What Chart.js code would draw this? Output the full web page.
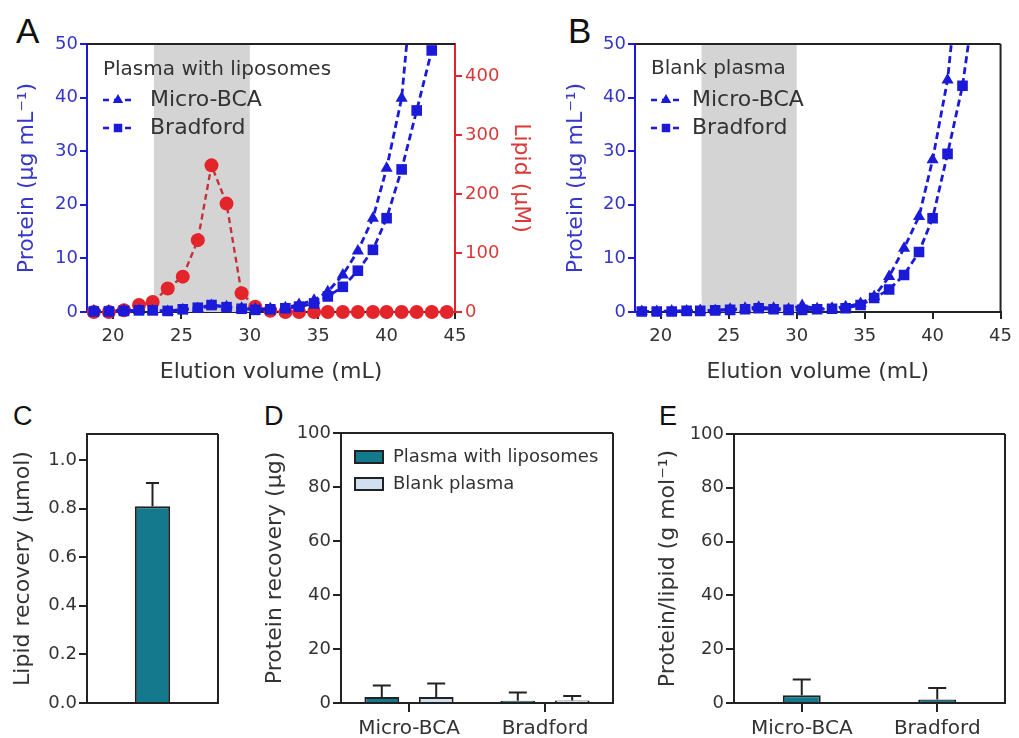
<!DOCTYPE html>
<html>
<head>
<meta charset="utf-8">
<script src="https://cdn.jsdelivr.net/npm/chart.js@4.4.1/dist/chart.umd.min.js"></script>
<style>
  body { margin: 0; width: 1019px; height: 738px; background: #fff; position: relative; overflow: hidden; }
  canvas { position: absolute; }
  .tag { position: absolute; font-family: "Liberation Sans", sans-serif; line-height: 1; color: #111; }
  .big { font-size: 35px; }
  .small { font-size: 27px; }
</style>
</head>
<body>
<div class="tag big" style="left:16px;top:13px">A</div>
<div class="tag big" style="left:568px;top:13px">B</div>
<div class="tag small" style="left:13px;top:403px">C</div>
<div class="tag small" style="left:264px;top:403px">D</div>
<div class="tag small" style="left:659px;top:403px">E</div>

<canvas id="chartA" width="545" height="390" style="left:0;top:0"></canvas>
<canvas id="chartB" width="474" height="390" style="left:545px;top:0"></canvas>
<canvas id="chartC" width="250" height="348" style="left:0;top:390px"></canvas>
<canvas id="chartD" width="390" height="348" style="left:250px;top:390px"></canvas>
<canvas id="chartE" width="379" height="348" style="left:640px;top:390px"></canvas>

<script>
// elution profiles (fractions)
let elutionVolume = [18.6, 19.7, 20.8, 21.9, 22.9, 24.0, 25.1, 26.2, 27.2, 28.3, 29.4, 30.4, 31.5,
  32.6, 33.6, 34.7, 35.7, 36.8, 37.9, 39.0, 40.0, 41.1, 42.2, 43.3, 44.4];
let lipidWithLiposomes = [0, 0, 3, 12, 17, 40, 60, 122, 249, 184, 32, 9, 2, 0, 0, 0, 0, 0, 0, 0, 0, 0, 0, 0, 0];
let bcaWithLiposomes = [0.2, 0.2, 0.3, 0.3, 0.2, 0.1, 0.4, 0.6, 1.2, 1.0, 0.7, 0.5, 0.6, 0.8, 1.4, 2.2, 3.8,
  6.9, 11.4, 17.5, 26.8, 39.9, 70, null, null];
let bradfordWithLiposomes = [0.1, 0.1, 0.2, 0.3, 0.3, 0.2, 0.5, 0.8, 1.3, 0.9, 0.6, 0.4, 0.5, 0.7, 1.0, 1.6,
  2.9, 4.7, 7.7, 11.6, 17.5, 26.6, 37.6, 48.8, 65];
let bcaBlank = [0.1, 0.1, 0.2, 0.2, 0.3, 0.3, 0.5, 0.7, 0.9, 0.7, 0.5, 1.2, 0.6, 0.7, 1.0, 1.6, 2.9, 6.6,
  11.9, 17.8, 28.4, 43.3, 70, null, null];
let bradfordBlank = [0.1, 0.1, 0.1, 0.2, 0.2, 0.3, 0.4, 0.5, 0.7, 0.5, 0.4, 0.4, 0.5, 0.6, 0.7, 1.3, 2.6,
  4.2, 6.9, 11.2, 17.5, 29.5, 42.2, 62, null];
let volumeTicks = [20, 25, 30, 35, 40, 45];
let proteinTicks = [0, 10, 20, 30, 40, 50];
let lipidTicks = [0, 100, 200, 300, 400];
let shadedRange = [23, 30];

// recoveries
let lipidRecovery = [0.81];
let lipidRecoveryErr = [0.095];
let lipidRecoveryTicks = [0, 0.2, 0.4, 0.6, 0.8, 1.0];
let methods = ["Micro-BCA", "Bradford"];
let recoveryWithLiposomes = [2.2, 0.8];
let recoveryWithLiposomesErr = [4.3, 3.1];
let recoveryBlank = [2.2, 0.9];
let recoveryBlankErr = [5.0, 1.7];
let proteinPerLipid = [2.9, 1.3];
let proteinPerLipidErr = [5.8, 4.3];
let percentTicks = [0, 20, 40, 60, 80, 100];

let BLUE = "#1a1ad8";
let BLUE_TEXT = "#3636c8";
let RED = "#e3242b";
let RED_TEXT = "#d83a3a";
let TEAL = "#15798d";
let PALE = "#d0e0f0";
let INK = "#333";
let EDGE = "#222";

Chart.defaults.font.family = "'DejaVu Sans', sans-serif";
Chart.defaults.color = INK;

function toPoints(values) {
  return elutionVolume.map((v, i) => ({ x: v, y: values[i] }));
}
function fixedTicks(list) {
  return scale => { scale.ticks = list.map(v => ({ value: v })); };
}

// shaded window + frame sides
let panelPlugin = {
  id: "panel",
  beforeDatasetsDraw(chart, args, opts) {
    let { ctx, chartArea: a, scales } = chart;
    ctx.save();
    if (opts.range) {
      let x0 = scales.x.getPixelForValue(opts.range[0]);
      let x1 = scales.x.getPixelForValue(opts.range[1]);
      ctx.fillStyle = "#d4d4d4";
      ctx.fillRect(x0, a.top, x1 - x0, a.bottom - a.top);
    }
    ctx.lineWidth = 2;
    if (opts.top) {
      ctx.strokeStyle = opts.top;
      ctx.beginPath(); ctx.moveTo(a.left, a.top); ctx.lineTo(a.right, a.top); ctx.stroke();
    }
    if (opts.right) {
      ctx.strokeStyle = opts.right;
      ctx.beginPath(); ctx.moveTo(a.right, a.top); ctx.lineTo(a.right, a.bottom); ctx.stroke();
    }
    ctx.restore();
  }
};

// error bars above bars
let errorBarPlugin = {
  id: "errorBars",
  afterDatasetsDraw(chart, args, opts) {
    let ctx = chart.ctx;
    let yScale = chart.scales.y;
    chart.data.datasets.forEach((ds, i) => {
      if (!ds.errors) return;
      chart.getDatasetMeta(i).data.forEach((bar, j) => {
        let top = yScale.getPixelForValue(ds.data[j] + ds.errors[j]);
        ctx.save();
        ctx.strokeStyle = EDGE;
        ctx.lineWidth = 2;
        ctx.beginPath();
        ctx.moveTo(bar.x, bar.y);
        ctx.lineTo(bar.x, top);
        ctx.moveTo(bar.x - opts.cap / 2, top);
        ctx.lineTo(bar.x + opts.cap / 2, top);
        ctx.stroke();
        ctx.restore();
      });
    });
  }
};

// legend drawn inside the plot
let keyPlugin = {
  id: "key",
  afterDatasetsDraw(chart, args, opts) {
    if (!opts.items) return;
    let ctx = chart.ctx;
    ctx.save();
    ctx.textBaseline = "middle";
    let y = opts.y;
    if (opts.title) {
      ctx.font = opts.titleSize + "px 'DejaVu Sans', sans-serif";
      ctx.fillStyle = INK;
      ctx.fillText(opts.title, opts.x, y);
      y += opts.titleGap;
    }
    ctx.font = opts.size + "px 'DejaVu Sans', sans-serif";
    opts.items.forEach(idx => {
      let ds = chart.data.datasets[idx];
      let cx = opts.symbolX;
      if (opts.kind === "line") {
        ctx.strokeStyle = ds.borderColor;
        ctx.lineWidth = 2.5;
        ctx.setLineDash([6, 5]);
        ctx.beginPath(); ctx.moveTo(cx - 15, y); ctx.lineTo(cx + 15, y); ctx.stroke();
        ctx.setLineDash([]);
        ctx.fillStyle = ds.backgroundColor;
        Chart.helpers.drawPoint(ctx, { pointStyle: ds.pointStyle, radius: 6, rotation: 0, borderWidth: 0 }, cx, y);
      } else {
        ctx.fillStyle = ds.backgroundColor;
        ctx.strokeStyle = EDGE;
        ctx.lineWidth = 2;
        ctx.fillRect(cx - 14, y - 6, 28, 12);
        ctx.strokeRect(cx - 14, y - 6, 28, 12);
      }
      ctx.fillStyle = INK;
      ctx.fillText(ds.label, opts.textX, y);
      y += opts.gap;
    });
    ctx.restore();
  }
};

function lineSet(label, values, color, style, radius, axis) {
  return {
    label: label,
    data: toPoints(values),
    yAxisID: axis,
    borderColor: color,
    backgroundColor: color,
    borderDash: [7, 4],
    borderWidth: 2.8,
    pointStyle: style,
    pointRadius: radius,
    pointBorderWidth: 0,
    clip: { left: 12, top: 0, right: 12, bottom: 12 }
  };
}

function proteinAxis(width) {
  return {
    position: "left", min: 0, max: 50,
    afterBuildTicks: fixedTicks(proteinTicks),
    afterFit: s => { s.width = width; },
    border: { color: BLUE, width: 2 },
    grid: { drawOnChartArea: false, color: BLUE, tickLength: 7, lineWidth: 2 },
    ticks: { color: BLUE_TEXT, font: { size: 18 }, padding: 2 },
    title: { display: true, text: "Protein (\u00b5g mL\u207b\u00b9)", color: BLUE_TEXT, font: { size: 22 } }
  };
}
function volumeAxis() {
  return {
    type: "linear", min: 18.1, max: 45,
    afterBuildTicks: fixedTicks(volumeTicks),
    afterFit: s => { s.height = 77; },
    border: { color: EDGE, width: 2 },
    grid: { drawOnChartArea: false, color: EDGE, tickLength: 7, lineWidth: 2 },
    ticks: { color: INK, font: { size: 18 }, padding: 7, maxRotation: 0 },
    title: { display: true, text: "Elution volume (mL)", color: INK, font: { size: 22 } }
  };
}

let baseOptions = {
  responsive: false,
  animation: false,
  devicePixelRatio: 1,
  events: []
};

// Panel A
new Chart(document.getElementById("chartA"), {
  type: "line",
  data: {
    datasets: [
      lineSet("Micro-BCA", bcaWithLiposomes, BLUE, "triangle", 7, "y"),
      lineSet("Bradford", bradfordWithLiposomes, BLUE, "rect", 7.5, "y"),
      Object.assign(lineSet("Lipid", lipidWithLiposomes, RED, "circle", 7, "y2"), { borderColor: "#c4323a", borderDash: [6, 4], borderWidth: 2.4 })
    ]
  },
  options: Object.assign({}, baseOptions, {
    layout: { padding: { left: 10, top: 44, right: 7, bottom: 1 } },
    plugins: {
      legend: { display: false },
      tooltip: { enabled: false },
      panel: { range: shadedRange, top: EDGE },
      key: { kind: "line", items: [0, 1], title: "Plasma with liposomes", titleSize: 20, titleGap: 30, x: 103, y: 70,
        size: 22, gap: 28, symbolX: 118, textX: 150 }
    },
    scales: {
      x: volumeAxis(),
      y: proteinAxis(77),
      y2: {
        position: "right", min: 0, max: 455,
        afterBuildTicks: fixedTicks(lipidTicks),
        afterFit: s => { s.width = 83; },
        border: { color: RED, width: 2 },
        grid: { drawOnChartArea: false, color: RED, tickLength: 7, lineWidth: 2 },
        ticks: { color: RED_TEXT, font: { size: 18 }, padding: 3 },
        title: { display: true, text: "Lipid (\u00b5M)", color: RED_TEXT, font: { size: 22 } }
      }
    }
  }),
  plugins: [panelPlugin, keyPlugin]
});

// Panel B
new Chart(document.getElementById("chartB"), {
  type: "line",
  data: {
    datasets: [
      lineSet("Micro-BCA", bcaBlank, BLUE, "triangle", 7, "y"),
      lineSet("Bradford", bradfordBlank, BLUE, "rect", 7.5, "y")
    ]
  },
  options: Object.assign({}, baseOptions, {
    layout: { padding: { left: 14, top: 44, right: 14, bottom: 1 } },
    plugins: {
      legend: { display: false },
      tooltip: { enabled: false },
      panel: { range: shadedRange, top: EDGE, right: EDGE },
      key: { kind: "line", items: [0, 1], title: "Blank plasma", titleSize: 20, titleGap: 31, x: 106, y: 69,
        size: 22, gap: 28, symbolX: 121, textX: 147 }
    },
    scales: { x: volumeAxis(), y: proteinAxis(76) }
  }),
  plugins: [panelPlugin, keyPlugin]
});

function valueAxis(list, titleText, width, decimals) {
  return {
    min: 0, max: list === percentTicks ? 100 : 1.107,
    afterBuildTicks: fixedTicks(list),
    afterFit: s => { s.width = width; },
    border: { color: EDGE, width: 2 },
    grid: { drawOnChartArea: false, color: EDGE, tickLength: 8, lineWidth: 2 },
    ticks: { color: INK, font: { size: 18 }, padding: 2, callback: v => v.toFixed(decimals) },
    title: { display: true, text: titleText, color: INK, font: { size: 22 } }
  };
}
function methodAxis(showTicks) {
  return {
    offset: true,
    afterFit: s => { s.height = 35; },
    border: { color: EDGE, width: 2 },
    grid: { display: showTicks, offset: false, drawOnChartArea: false, color: EDGE, tickLength: 9, lineWidth: 2 },
    ticks: { display: showTicks, color: INK, font: { size: 20 }, padding: 5, maxRotation: 0 }
  };
}

// Panel C
new Chart(document.getElementById("chartC"), {
  type: "bar",
  data: {
    labels: [""],
    datasets: [{
      label: "Lipid recovery", data: lipidRecovery, errors: lipidRecoveryErr,
      backgroundColor: TEAL, borderColor: EDGE, borderWidth: 2,
      barPercentage: 0.27, categoryPercentage: 1
    }]
  },
  options: Object.assign({}, baseOptions, {
    layout: { padding: { left: 6, top: 44, right: 32, bottom: 0 } },
    plugins: {
      legend: { display: false }, tooltip: { enabled: false },
      panel: { top: EDGE, right: EDGE }, errorBars: { cap: 13 }
    },
    scales: { x: methodAxis(false), y: valueAxis(lipidRecoveryTicks, "Lipid recovery (\u00b5mol)", 81, 1) }
  }),
  plugins: [panelPlugin, errorBarPlugin]
});

// Panel D
new Chart(document.getElementById("chartD"), {
  type: "bar",
  data: {
    labels: methods,
    datasets: [
      {
        label: "Plasma with liposomes", data: recoveryWithLiposomes, errors: recoveryWithLiposomesErr,
        backgroundColor: TEAL, borderColor: EDGE, borderWidth: 2, barPercentage: 0.64, categoryPercentage: 0.8
      },
      {
        label: "Blank plasma", data: recoveryBlank, errors: recoveryBlankErr,
        backgroundColor: PALE, borderColor: EDGE, borderWidth: 2, barPercentage: 0.64, categoryPercentage: 0.8
      }
    ]
  },
  options: Object.assign({}, baseOptions, {
    layout: { padding: { left: 8, top: 43, right: 27, bottom: 0 } },
    plugins: {
      legend: { display: false }, tooltip: { enabled: false },
      panel: { top: EDGE, right: EDGE }, errorBars: { cap: 18 },
      key: { kind: "box", items: [0, 1], y: 67, size: 18, gap: 27, symbolX: 119, textX: 143 }
    },
    scales: { x: methodAxis(true), y: valueAxis(percentTicks, "Protein recovery (\u00b5g)", 83, 0) }
  }),
  plugins: [panelPlugin, errorBarPlugin, keyPlugin]
});

// Panel E
new Chart(document.getElementById("chartE"), {
  type: "bar",
  data: {
    labels: methods,
    datasets: [{
      label: "Protein/lipid", data: proteinPerLipid, errors: proteinPerLipidErr,
      backgroundColor: TEAL, borderColor: EDGE, borderWidth: 2, barPercentage: 0.28, categoryPercentage: 1
    }]
  },
  options: Object.assign({}, baseOptions, {
    layout: { padding: { left: 11, top: 44, right: 14, bottom: 0 } },
    plugins: {
      legend: { display: false }, tooltip: { enabled: false },
      panel: { top: EDGE, right: EDGE }, errorBars: { cap: 18 }
    },
    scales: { x: methodAxis(true), y: valueAxis(percentTicks, "Protein/lipid (g mol\u207b\u00b9)", 83, 0) }
  }),
  plugins: [panelPlugin, errorBarPlugin]
});
</script>
</body>
</html>
